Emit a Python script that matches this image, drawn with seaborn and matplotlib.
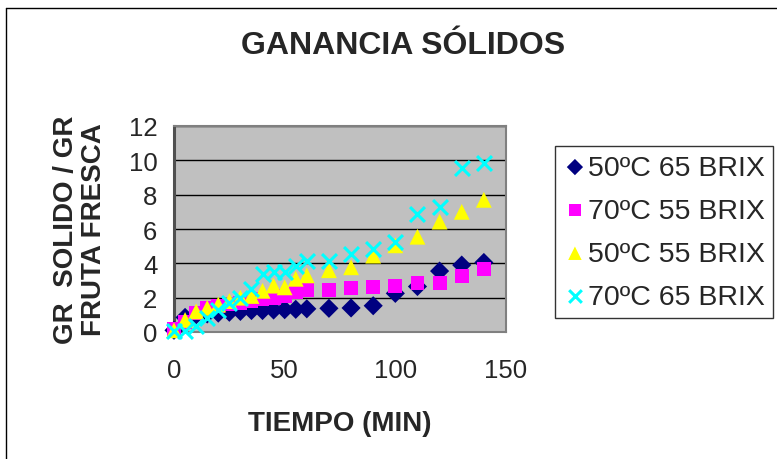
import matplotlib
matplotlib.use("Agg")
import matplotlib.pyplot as plt
from matplotlib.lines import Line2D
import seaborn as sns
import pandas as pd

# Sampling times (min)
tiempo = [0, 5, 10, 15, 20, 25, 30, 35, 40, 45, 50, 55, 60,
          70, 80, 90, 100, 110, 120, 130, 140]

# Solids gain (g solid / g fresh fruit) for each treatment
t50_b65 = [0.1, 0.85, 1.0, 1.05, 1.1, 1.15, 1.2, 1.25, 1.25, 1.28, 1.3, 1.32, 1.35,
           1.38, 1.4, 1.53, 2.25, 2.65, 3.55, 3.9, 4.05]
t70_b55 = [0.15, 0.6, 1.1, 1.4, 1.5, 1.6, 1.7, 1.8, 1.9, 2.0, 2.1, 2.3, 2.45,
           2.47, 2.56, 2.6, 2.7, 2.84, 2.85, 3.24, 3.67]
t50_b55 = [0.1, 0.7, 1.2, 1.4, 1.6, 1.8, 2.0, 2.1, 2.4, 2.7, 2.6, 3.1, 3.3,
           3.6, 3.77, 4.45, 5.05, 5.55, 6.43, 7.0, 7.7]
t70_b65 = [0.05, 0.05, 0.35, 0.8, 1.3, 1.7, 2.0, 2.5, 3.38, 3.48, 3.5, 3.86, 4.12,
           4.15, 4.54, 4.83, 5.22, 6.85, 7.3, 9.53, 9.82]

series_names = ["50ºC 65 BRIX", "70ºC 55 BRIX", "50ºC 55 BRIX", "70ºC 65 BRIX"]
series_values = [t50_b65, t70_b55, t50_b55, t70_b65]
series_colors = ["#000080", "#FF00FF", "#FFFF00", "#00FFFF"]
series_markers = ["D", "s", "^", "X"]

x_ticks = [0, 50, 100, 150]
y_ticks = [0, 2, 4, 6, 8, 10, 12]

rows = []
for name, vals in zip(series_names, series_values):
    for t, v in zip(tiempo, vals):
        rows.append({"tiempo": t, "valor": v, "serie": name})
df = pd.DataFrame(rows)

sns.set_theme(style="white")
plt.rcParams["font.family"] = ["Liberation Sans", "DejaVu Sans"]

W, H = 777, 460
fig = plt.figure(figsize=(W / 100, H / 100), dpi=100)
fig.patch.set_facecolor("white")
ax = fig.add_axes([174 / W, 1 - 333 / H, (506 - 174) / W, (333 - 127) / H])
ax.set_facecolor("#C0C0C0")

marker_styles = {
    "D": dict(s=95, linewidth=0),
    "s": dict(s=100, linewidth=0),
    "^": dict(s=130, linewidth=0),
}

for name, color, mk in zip(series_names, series_colors, series_markers):
    sub = df[df["serie"] == name]
    if mk == "X":
        sns.scatterplot(data=sub, x="tiempo", y="valor", ax=ax, color=color,
                        marker="x", s=115, linewidth=2.2, label=name,
                        clip_on=False, zorder=3)
    else:
        sns.scatterplot(data=sub, x="tiempo", y="valor", ax=ax, color=color,
                        marker=mk, edgecolor="none", label=name,
                        clip_on=False, zorder=3, **marker_styles[mk])

ax.set_xlim(0, 150)
ax.set_ylim(0, 12)
ax.set_xticks(x_ticks)
ax.set_yticks(y_ticks)
ax.yaxis.grid(True, color="black", linewidth=1)
ax.xaxis.grid(False)
ax.set_axisbelow(True)
ax.tick_params(axis="both", which="major", direction="out", length=6, width=1,
               color="black", labelsize=18.5, pad=6)
ax.tick_params(axis="x", pad=13)
for side in ["top", "right", "bottom"]:
    ax.spines[side].set_color("#808080")
    ax.spines[side].set_linewidth(1.5)
ax.spines["left"].set_color("#505050")
ax.spines["left"].set_linewidth(2.2)

ax.set_xlabel("TIEMPO (MIN)", fontsize=20, fontweight="bold", labelpad=20)
ax.set_ylabel("")
fig.text(80 / W, 1 - 230 / H, "GR  SOLIDO / GR\nFRUTA FRESCA", rotation=90,
         ha="center", va="center", multialignment="center",
         fontsize=20, fontweight="bold", linespacing=1.1)

fig.text(403 / W, 1 - 46 / H, "GANANCIA SÓLIDOS", ha="center", va="center",
         fontsize=23, fontweight="bold")

leg = ax.legend(loc="upper left", bbox_to_anchor=(555 / W, 1 - 147 / H),
                bbox_transform=fig.transFigure, frameon=True, fancybox=False,
                fontsize=20.5, handletextpad=0.05, handlelength=0.8,
                labelspacing=0.6, borderpad=0.3, borderaxespad=0,
                markerscale=0.85)
leg.get_frame().set_edgecolor("black")
leg.get_frame().set_linewidth(1)
leg.get_frame().set_facecolor("white")

# Outer chart border (left and top edges)
fig.add_artist(Line2D([6 / W, 6 / W], [0, 1 - 9 / H], transform=fig.transFigure,
                      color="black", linewidth=1))
fig.add_artist(Line2D([6 / W, 1], [1 - 9 / H, 1 - 9 / H], transform=fig.transFigure,
                      color="black", linewidth=1))

fig.savefig("out.png", dpi=100, facecolor="white")
